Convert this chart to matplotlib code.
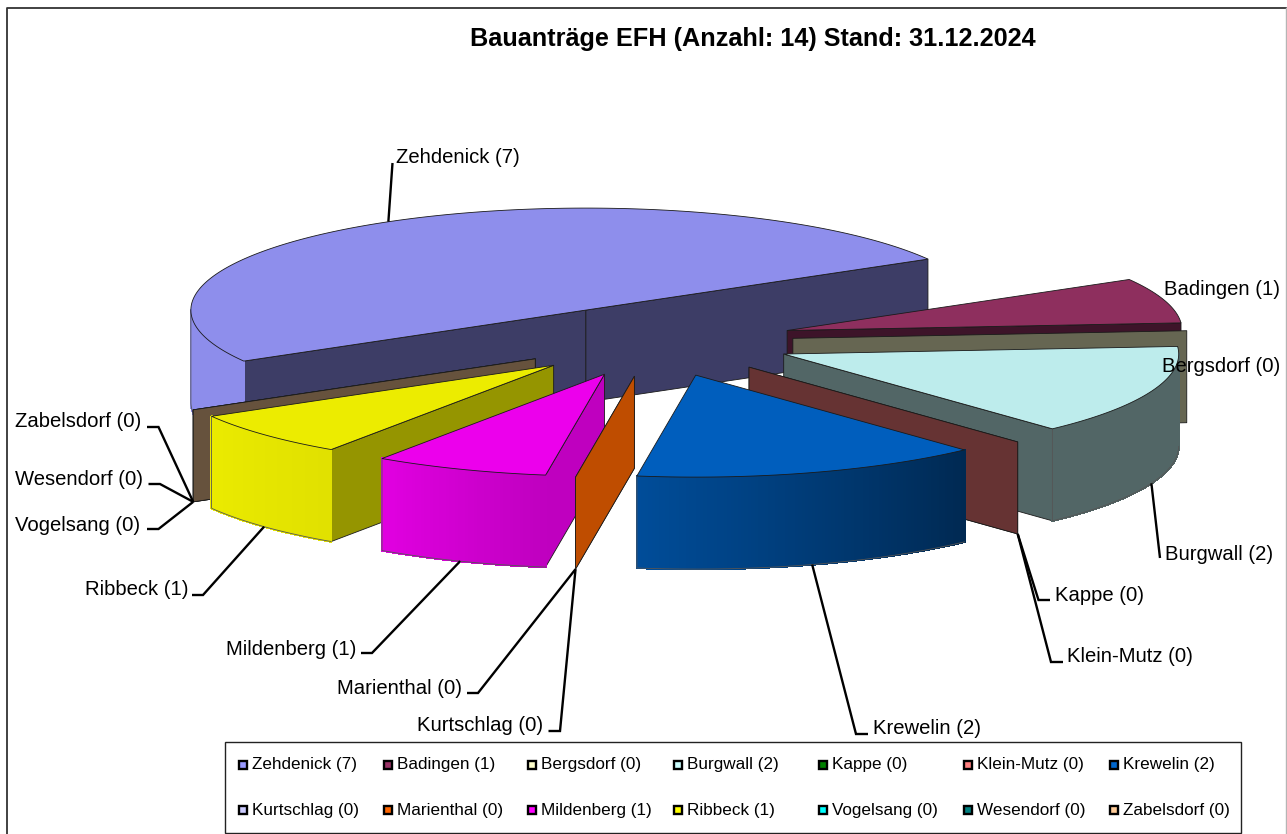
import numpy as np
import matplotlib
matplotlib.use('Agg')
import matplotlib.pyplot as plt
from matplotlib.patches import Polygon, Rectangle
from matplotlib.collections import PolyCollection

plt.rcParams['font.family'] = ['Liberation Sans', 'DejaVu Sans']

# Data
names = ['Zehdenick', 'Badingen', 'Bergsdorf', 'Burgwall', 'Kappe', 'Klein-Mutz', 'Krewelin',
         'Kurtschlag', 'Marienthal', 'Mildenberg', 'Ribbeck', 'Vogelsang', 'Wesendorf', 'Zabelsdorf']
values = [7, 1, 0, 2, 0, 0, 2, 0, 0, 1, 1, 0, 0, 0]
colors = ['#9999FF', '#993366', '#FFFFCC', '#CCFFFF', '#008000', '#FF8080', '#0066CC',
          '#CCCCFF', '#FF6600', '#FF00FF', '#FFFF00', '#00FFFF', '#008080', '#FFCC99']
title = 'Bauanträge EFH (Anzahl: 14) Stand: 31.12.2024'

# Pie geometry, in pixels of the picture
cx, cy = 655.0, 341.0
rx, ry = 395.0, 102.0
depth = 92.0
explode = 0.35
start_angle = 210.0
draw_order = [0, 1, 2, 3, 4, 5, 6, 11, 12, 13, 10, 9, 7, 8]

# Label layout: left edge and centre height of the text
label_x = [396, 1164, 1162, 1165, 1055, 1067, 873, 417, 337, 226, 85, 15, 15, 15]
label_y = [156, 288, 365, 553, 594, 655, 727, 724, 687, 648, 588, 524, 478, 420]
# Leader: elbow and end of the short stub next to the text
leaders = {0: [(392.5, 163)], 3: [(1160, 558)],
           4: [(1038.5, 600), (1050, 600)], 5: [(1051, 662), (1063, 662)],
           6: [(856, 734), (868, 734)], 7: [(560, 731), (548.5, 731)],
           8: [(478, 693), (467, 693)], 9: [(372, 653), (361, 653)],
           10: [(203, 595), (192, 595)], 11: [(158.5, 529), (147, 529)],
           12: [(160, 484), (148.5, 484)], 13: [(158.5, 427), (147, 427)]}
legend_x = [243, 388, 532, 678, 823, 968, 1114]
legend_y = [764.5, 809.5]


def shade(color, f):
    return tuple(c * f for c in matplotlib.colors.to_rgb(color))


def rim_shade(deg):
    return np.interp(deg, [-150, -124, -98.6, -47, 0], [0.92, 0.88, 0.75, 0.40, 0.40])


def face_shade(deg):
    return np.interp(deg, [-90, -60, -34, -8.6], [0.40, 0.40, 0.585, 0.75])


def pt(apex, deg):
    t = np.radians(deg)
    return apex[0] + rx * np.cos(t), apex[1] - ry * np.sin(t)


def wrap(deg):
    return (deg + 180.0) % 360.0 - 180.0


def draw_face(ax, apex, deg, normal, color, z):
    if np.sin(np.radians(normal)) >= 0:
        return
    x, y = pt(apex, deg)
    quad = [apex, (x, y), (x, y + depth), (apex[0], apex[1] + depth)]
    col = shade(color, face_shade(wrap(normal)))
    ax.add_patch(Polygon(quad, closed=True, fc=col, ec='#1a1a1a', lw=0.6, zorder=z, joinstyle='round'))


def draw_slice(ax, i, a0, a1, z):
    mid = np.radians((a0 + a1) / 2)
    apex = (cx + explode * rx * np.cos(mid), cy - explode * ry * np.sin(mid))
    color = colors[i]

    draw_face(ax, apex, a0, a0 + 90, color, z)
    draw_face(ax, apex, a1, a1 - 90, color, z)

    if a0 - a1 < 1e-6:
        return

    # outer wall, split in strips so the shading can run along the arc
    angles = np.linspace(a0, a1, int((a0 - a1) * 2) + 2)
    strips, strip_cols, front = [], [], []
    for u, v in zip(angles[:-1], angles[1:]):
        if np.sin(np.radians((u + v) / 2)) < 0:
            xu, yu = pt(apex, u)
            xv, yv = pt(apex, v)
            strips.append([(xu, yu), (xv, yv), (xv, yv + depth), (xu, yu + depth)])
            strip_cols.append(shade(color, rim_shade(wrap((u + v) / 2))))
            front += [u, v]
    if strips:
        ax.add_collection(PolyCollection(strips, facecolors=strip_cols, edgecolors=strip_cols,
                                         linewidths=1.0, antialiaseds=False, zorder=z))
        # outline of the wall
        for part in np.split(np.array(front), np.where(np.diff(front) < -1.5)[0] + 1):
            xs, ys = pt(apex, part)
            ax.plot(np.r_[xs[0], xs, xs[-1]], np.r_[ys[0] + depth, ys + depth, ys[-1]],
                    color='#555555', lw=0.6, zorder=z, solid_joinstyle='round')

    # top
    xs, ys = pt(apex, angles)
    top = np.column_stack([np.r_[apex[0], xs], np.r_[apex[1], ys]])
    ax.add_patch(Polygon(top, closed=True, fc=shade(color, 0.925), ec='#1a1a1a', lw=0.6, zorder=z))


fig = plt.figure(figsize=(12.87, 8.34), dpi=100)
ax = fig.add_axes([0, 0, 1, 1])
ax.set_xlim(0, 1287)
ax.set_ylim(834, 0)
ax.axis('off')

# Chart frame, its lower edge lies outside the picture
ax.plot([6.5, 6.5, 1285.5], [840, 7.5, 7.5], color='#333333', lw=1.3, zorder=1)
ax.plot([1286, 1286], [7.5, 840], color='#b5b5b5', lw=1.0, zorder=1)

# Slices
shares = np.array(values) / sum(values) * 360.0
ends = start_angle - np.cumsum(shares)
starts = ends + shares
for z, i in enumerate(draw_order):
    draw_slice(ax, i, starts[i], ends[i], 10 + z)

# Leader lines start at the middle of the outer arc
for i, pts in leaders.items():
    mid = np.radians((starts[i] + ends[i]) / 2)
    apex = (cx + explode * rx * np.cos(mid), cy - explode * ry * np.sin(mid))
    x0, y0 = pt(apex, np.degrees(mid))
    if np.sin(mid) < 0:
        y0 += depth
    xs = [x0] + [p[0] for p in pts]
    ys = [y0] + [p[1] for p in pts]
    ax.plot(xs, ys, color='black', lw=1.7, zorder=40, solid_joinstyle='miter', solid_capstyle='butt')

# Labels
for i, name in enumerate(names):
    ax.text(label_x[i], label_y[i] + 1.5, '%s (%d)' % (name, values[i]), fontsize=14.6,
            ha='left', va='center', color='black', zorder=50)

ax.text(752.5, 38.5, title, fontsize=18.15, fontweight='bold', ha='center', va='center', zorder=50)

# Legend
ax.add_patch(Rectangle((224.5, 741.5), 1016.5, 91.5, fc='white', ec='#222222', lw=1.0, zorder=60))
for i, name in enumerate(names):
    row, col = i // 7, i % 7
    lx, ly = legend_x[col], legend_y[row]
    ax.add_patch(Rectangle((lx - 4, ly - 4), 8, 8, fc=colors[i], ec='black', lw=1.7, zorder=61))
    ax.text(lx + 9, ly + 0.5, '%s (%d)' % (name, values[i]), fontsize=12.3, ha='left', va='center', zorder=61)

fig.savefig('out.png', dpi=100, facecolor='white')
